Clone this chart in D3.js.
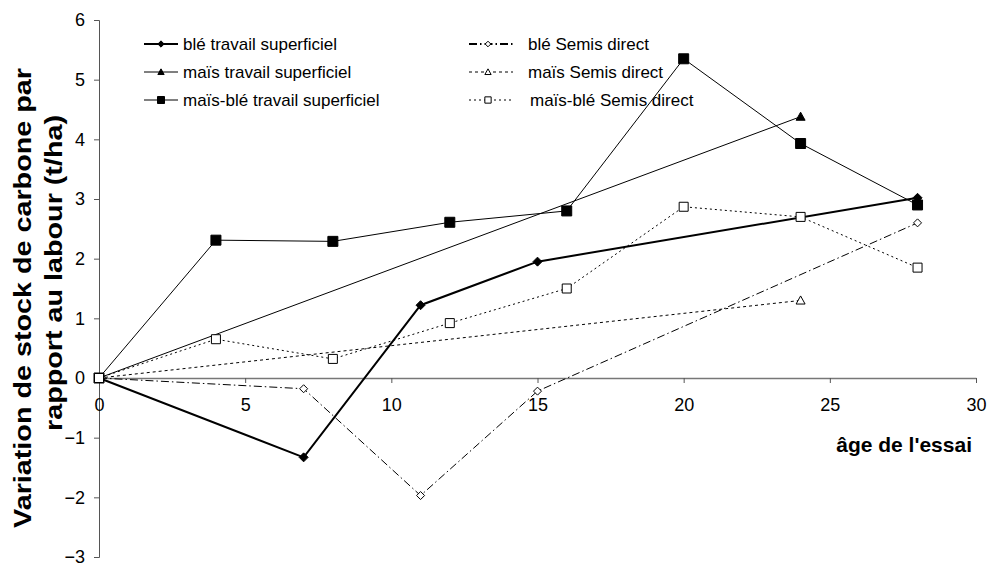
<!DOCTYPE html>
<html>
<head>
<meta charset="utf-8">
<script src="https://cdn.jsdelivr.net/npm/d3@7/dist/d3.min.js"></script>
<style>
  html, body { margin: 0; padding: 0; background: #fff; }
  svg { display: block; }
  text { font-family: "Liberation Sans", Arial, sans-serif; fill: #000; }
</style>
</head>
<body>
<svg id="chart" width="989" height="564"></svg>
<script>
// Trial age (years) and carbon stock change vs ploughing (t/ha)
const bleTSAge   = [0, 7, 11, 15, 28];
const bleTS      = [0, -1.33, 1.22, 1.95, 3.02];
const maisTSAge  = [0, 24];
const maisTS     = [0, 4.38];
const mbTSAge    = [0, 4, 8, 12, 16, 20, 24, 28];
const mbTS       = [0, 2.31, 2.29, 2.61, 2.80, 5.35, 3.93, 2.90];
const bleSDAge   = [0, 7, 11, 15, 28];
const bleSD      = [0, -0.18, -1.97, -0.22, 2.60];
const maisSDAge  = [0, 24];
const maisSD     = [0, 1.30];
const mbSDAge    = [0, 4, 8, 12, 16, 20, 24, 28];
const mbSD       = [0, 0.65, 0.32, 0.92, 1.50, 2.87, 2.70, 1.85];

const xTicks = [0, 5, 10, 15, 20, 25, 30];
const yTicks = [-3, -2, -1, 0, 1, 2, 3, 4, 5, 6];

const series = [
  { name: "blé travail superficiel",      ages: bleTSAge,  vals: bleTS,  marker: "diamond",  fill: "#000", width: 2, dash: null,        size: 9 },
  { name: "maïs travail superficiel",     ages: maisTSAge, vals: maisTS, marker: "triangle", fill: "#000", width: 1, dash: null,        size: 9 },
  { name: "maïs-blé travail superficiel", ages: mbTSAge,   vals: mbTS,   marker: "square",   fill: "#000", width: 1, dash: null,        size: 10 },
  { name: "blé Semis direct",             ages: bleSDAge,  vals: bleSD,  marker: "diamond",  fill: "#fff", width: 1, dash: "8,3,1.5,3", size: 8 },
  { name: "maïs Semis direct",            ages: maisSDAge, vals: maisSD, marker: "triangle", fill: "#fff", width: 1, dash: "3,3",       size: 9 },
  { name: "maïs-blé Semis direct",        ages: mbSDAge,   vals: mbSD,   marker: "square",   fill: "#fff", width: 1, dash: "2,3",       size: 9 }
];

const svg = d3.select("#chart");
const x = d3.scaleLinear().domain([0, 30]).range([99, 976]);
const y = d3.scaleLinear().domain([-3, 6]).range([557, 20]);

// marker shapes centred on the origin
function markerPath(type, s) {
  const h = s / 2;
  if (type === "square") return `M${-h},${-h}H${h}V${h}H${-h}Z`;
  if (type === "diamond") return `M0,${-h}L${h},0L0,${h}L${-h},0Z`;
  return `M0,${-h}L${h},${h * 0.8}L${-h},${h * 0.8}Z`;
}

// y axis
const yAxis = svg.append("g")
  .attr("transform", `translate(${x(0)},0)`)
  .call(d3.axisLeft(y).tickValues(yTicks).tickSize(5).tickPadding(9).tickFormat(d3.format("d")));
yAxis.select(".domain").attr("stroke", "#555");
yAxis.selectAll(".tick line").attr("stroke", "#555");
yAxis.selectAll("text").style("font-size", "18px").attr("font-family", "Liberation Sans, Arial, sans-serif");

// x axis crossing at zero
const xAxis = svg.append("g")
  .attr("transform", `translate(0,${y(0)})`)
  .call(d3.axisBottom(x).tickValues(xTicks).tickSize(5).tickPadding(15).tickSizeOuter(0).tickFormat(d3.format("d")));
xAxis.select(".domain").attr("stroke", "#777").attr("stroke-width", 1.5);
xAxis.selectAll(".tick line").attr("stroke", "#555");
xAxis.selectAll("text").style("font-size", "18px").attr("font-family", "Liberation Sans, Arial, sans-serif");

// series lines and markers
const line = d3.line().x(d => x(d[0])).y(d => y(d[1]));
series.forEach(s => {
  const pts = s.ages.map((a, i) => [a, s.vals[i]]);
  svg.append("path")
    .datum(pts)
    .attr("d", line)
    .attr("fill", "none")
    .attr("stroke", "#000")
    .attr("stroke-width", s.width)
    .attr("stroke-dasharray", s.dash);
  svg.append("g").selectAll("path")
    .data(pts)
    .join("path")
    .attr("transform", d => `translate(${x(d[0])},${y(d[1])})`)
    .attr("d", markerPath(s.marker, s.size))
    .attr("fill", s.fill)
    .attr("stroke", "#000")
    .attr("stroke-width", 1);
});

// legend, two columns of three entries
const legendCols = [
  { lineX0: 144, lineX1: 178, markX: 161, textX: 183 },
  { lineX0: 469, lineX1: 513, markX: 488, textX: 528 }
];
const legendRows = [44, 72, 100];
series.forEach((s, i) => {
  const c = legendCols[Math.floor(i / 3)];
  const ry = legendRows[i % 3];
  const g = svg.append("g");
  g.append("line")
    .attr("x1", c.lineX0).attr("x2", c.lineX1)
    .attr("y1", ry).attr("y2", ry)
    .attr("stroke", "#000")
    .attr("stroke-width", i === 3 ? 2 : s.width)
    .attr("stroke-dasharray", s.dash);
  g.append("path")
    .attr("transform", `translate(${c.markX},${ry})`)
    .attr("d", markerPath(s.marker, s.size * 0.7))
    .attr("fill", s.fill)
    .attr("stroke", "#000");
  g.append("text")
    .attr("x", c.textX + (i === 5 ? 2 : 0))
    .attr("y", ry + 6)
    .style("font-size", "17px")
    .text(s.name);
});

// axis titles (the y title is drawn elongated along its baseline)
svg.append("text")
  .attr("transform", `translate(31,298) rotate(-90) scale(1.25,1)`)
  .attr("text-anchor", "middle")
  .style("font-size", "23px")
  .style("font-weight", "bold")
  .text("Variation de stock de carbone par");
svg.append("text")
  .attr("transform", `translate(62,273) rotate(-90) scale(1.25,1)`)
  .attr("text-anchor", "middle")
  .style("font-size", "23px")
  .style("font-weight", "bold")
  .text("rapport au labour (t/ha)");
svg.append("text")
  .attr("x", 972)
  .attr("y", 452)
  .attr("text-anchor", "end")
  .style("font-size", "21px")
  .style("font-weight", "bold")
  .text("âge de l'essai");
</script>
</body>
</html>
